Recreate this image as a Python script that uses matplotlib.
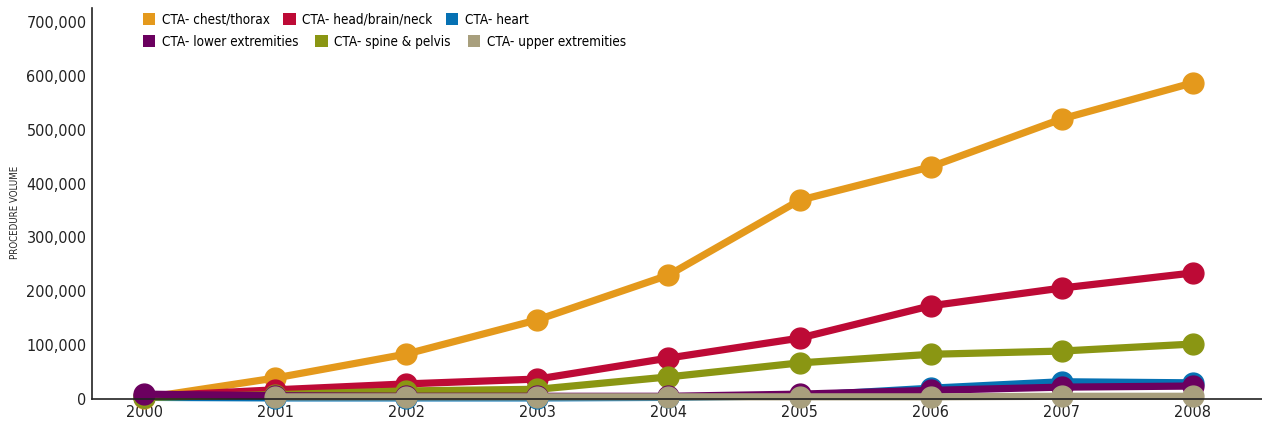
import matplotlib.pyplot as plt
from matplotlib import font_manager
from matplotlib.patches import Patch
from matplotlib.ticker import FuncFormatter

# pick a narrow face if one is installed
installed = [(f.name, str(f.stretch)) for f in font_manager.fontManager.ttflist]
if any(n == 'Liberation Sans Narrow' for n, s in installed):
    plt.rcParams['font.family'] = ['Liberation Sans Narrow', 'DejaVu Sans']
    scale = 1.12
elif any(n == 'DejaVu Sans' and s in ('condensed', '75', 'semi-condensed') for n, s in installed):
    plt.rcParams['font.family'] = ['DejaVu Sans']
    plt.rcParams['font.stretch'] = 'condensed'
    scale = 0.93
else:
    plt.rcParams['font.family'] = ['Liberation Sans', 'DejaVu Sans']
    scale = 0.96

years = [2000, 2001, 2002, 2003, 2004, 2005, 2006, 2007, 2008]
years_late = years[1:]

chest = [2000, 39000, 83500, 147000, 230000, 369000, 431000, 520000, 587000]
head = [5000, 17000, 28000, 37000, 76000, 113000, 173000, 206000, 234000]
heart = [3000, 2000, 2000, 2000, 3000, 6000, 20000, 32000, 30000]
lower = [9000, 6000, 5000, 5000, 5000, 9000, 16000, 22000, 24000]
spine = [3000, 8000, 15000, 18000, 41000, 67000, 83000, 89000, 102000]
upper = [4000, 4000, 4000, 4000, 4000, 4000, 5000, 5000]

names = ['CTA- chest/thorax', 'CTA- head/brain/neck', 'CTA- heart',
         'CTA- lower extremities', 'CTA- spine & pelvis', 'CTA- upper extremities']
colors = ['#e4991c', '#bd0a36', '#0671b3', '#6b005f', '#8a9613', '#a89f7d']

yticks = [0, 100000, 200000, 300000, 400000, 500000, 600000, 700000]

fs = 12.5 * scale

fig = plt.figure(figsize=(12.62, 4.24), dpi=100)
ax = fig.add_axes([0.0729, 0.059, 0.9271, 0.922])

series = [(years, chest), (years, head), (years, heart),
          (years, lower), (years, spine), (years_late, upper)]
# purple sits above green at the crowded start of the chart
zorders = [2, 2.1, 2.2, 2.4, 2.3, 2.5]
for (xs, ys), c, z in zip(series, colors, zorders):
    ax.plot(xs, ys, '-o', color=c, lw=5.2, ms=15, mec=c, solid_capstyle='round',
            clip_on=False, zorder=z)

ax.set_xlim(1999.6, 2008.53)
ax.set_ylim(0, 726000)
ax.set_xticks(years)
ax.set_xticklabels([str(y) for y in years], fontsize=fs, color='#222222')
ax.set_yticks(yticks)
ax.yaxis.set_major_formatter(FuncFormatter(lambda v, p: '{:,}'.format(int(v))))
for lab in ax.get_yticklabels():
    lab.set_fontsize(fs)
    lab.set_color('#222222')
ax.tick_params(length=0, pad=4)

for s in ['top', 'right']:
    ax.spines[s].set_visible(False)
for s in ['left', 'bottom']:
    ax.spines[s].set_linewidth(1.2)
    ax.spines[s].set_color('#222222')

fig.text(0.012, 0.5, 'PROCEDURE VOLUME', rotation=90, fontsize=7.5 * scale,
         va='center', ha='center', color='#222222')

h1 = [Patch(facecolor=c, edgecolor='none') for c in colors[:3]]
h2 = [Patch(facecolor=c, edgecolor='none') for c in colors[3:]]
leg_kw = dict(loc='upper left', ncol=3, frameon=False, fontsize=10.5 * scale,
              handlelength=0.9, handleheight=0.9, handletextpad=0.5,
              borderaxespad=0, borderpad=0)
leg1 = ax.legend(h1, names[:3], bbox_to_anchor=(0.0436, 0.988),
                 columnspacing=1.0, **leg_kw)
ax.add_artist(leg1)
ax.legend(h2, names[3:], bbox_to_anchor=(0.0436, 0.932),
          columnspacing=1.25, **leg_kw)

fig.savefig('out.png', dpi=100)
